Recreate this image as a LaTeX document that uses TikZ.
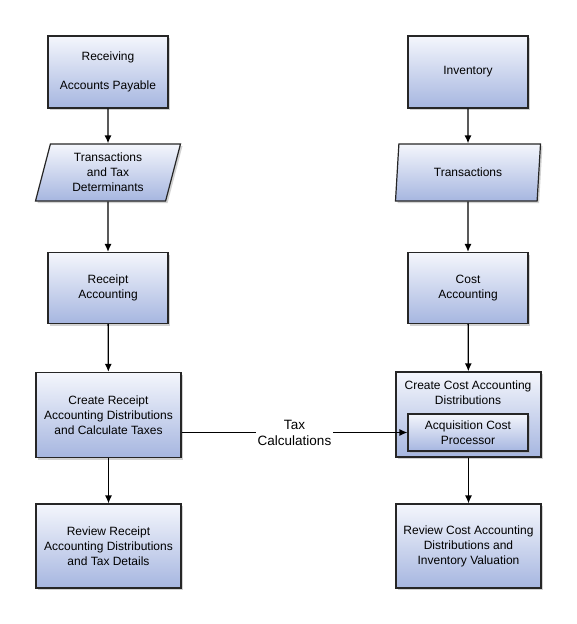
\documentclass[tikz,border=0pt]{standalone}
\usepackage{fontspec}
\setmainfont{Liberation Sans}
\usetikzlibrary{shapes.geometric}
\usetikzlibrary{shadows}
\usetikzlibrary{arrows.meta}
\definecolor{boxtop}{RGB}{244,246,252}
\definecolor{boxbot}{RGB}{166,182,224}

\begin{document}
\begin{tikzpicture}[x=1pt,y=-1pt,
  font=\fontsize{12}{15}\selectfont,
  box/.style={draw=black!85, line width=1.2pt, top color=boxtop, bottom color=boxbot,
    drop shadow={shadow xshift=2pt, shadow yshift=-2pt, fill=black!35},
    align=center, inner sep=0pt},
  smallbox/.style={box, minimum width=120pt, minimum height=71pt},
  bigbox/.style={box, minimum width=145pt, minimum height=84pt},
  data/.style={box, trapezium, trapezium left angle=69, trapezium right angle=111,
    trapezium stretches body, minimum width=145pt, minimum height=57pt},
  flow/.style={line width=1.3pt, -{Latex[length=8pt,width=7pt]}}]
  \useasboundingbox (0,0) rectangle (576,624);

  % left column
  \node[smallbox, minimum height=72pt] (rcv) at (108,72) {Receiving\\[14pt]Accounts Payable};
  \node[data] (rtrans) at (108,172.5) {Transactions\\and Tax\\Determinants};
  \node[smallbox] (racc) at (108,288) {Receipt\\Accounting};
  \node[bigbox, minimum height=85pt] (rdist) at (108.5,415) {Create Receipt\\Accounting Distributions\\and Calculate Taxes};
  \node[bigbox] (rrev) at (108.5,546) {Review Receipt\\Accounting Distributions\\and Tax Details};

  % right column
  \node[smallbox, minimum height=72pt] (inv) at (468,72) {Inventory};
  \node[data] (itrans) at (468,172.5) {Transactions};
  \node[smallbox] (cacc) at (468,288) {Cost\\Accounting};
  \node[bigbox, minimum height=85pt] (cdist) at (468.5,414.5) {};
  \node[align=center] (cdisttxt) at (468,393) {Create Cost Accounting\\Distributions};
  \node[box, drop shadow={opacity=0}, minimum width=120pt, minimum height=37pt] (acq) at (468,432.5) {Acquisition Cost\\Processor};
  \node[bigbox] (crev) at (468.5,546) {Review Cost Accounting\\Distributions and\\Inventory Valuation};

  % arrows
  \draw[flow] (rcv) -- (rtrans);
  \draw[flow] (rtrans) -- (racc);
  \draw[flow] (racc) -- (rdist);
  \draw[flow] (rdist) -- (rrev);

  \draw[flow] (inv) -- (itrans);
  \draw[flow] (itrans) -- (cacc);
  \draw[flow] (cacc) -- (cdist);
  \draw[flow] (cdist) -- (crev);

  \draw[flow] (rdist.east |- acq.west) -- node[fill=white, align=center, inner sep=2pt,
    font=\fontsize{13.5}{16}\selectfont] (tax) {Tax\\Calculations} (acq.west);
\end{tikzpicture}
\end{document}
